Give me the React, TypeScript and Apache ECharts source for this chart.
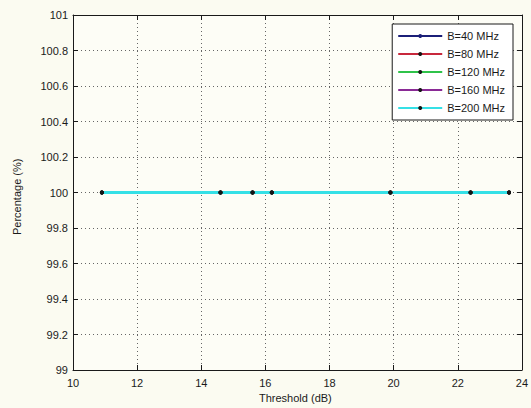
import React, { useEffect, useRef } from "react";
import * as echarts from "echarts";

const seriesNames = ["B=40 MHz", "B=80 MHz", "B=120 MHz", "B=160 MHz", "B=200 MHz"];
const seriesColors = ["#1b1f78", "#c8283c", "#2fc34a", "#8a2a96", "#35e0e6"];
const thresholds = [10.9, 14.6, 15.6, 16.2, 19.9, 22.4, 23.6];
const pct40 = [100, 100, 100, 100, 100, 100, 100];
const pct80 = [100, 100, 100, 100, 100, 100, 100];
const pct120 = [100, 100, 100, 100, 100, 100, 100];
const pct160 = [100, 100, 100, 100, 100, 100, 100];
const pct200 = [100, 100, 100, 100, 100, 100, 100];
const allValues = [pct40, pct80, pct120, pct160, pct200];

const FONT = "Liberation Sans";

export default function App() {
  const ref = useRef<HTMLDivElement>(null);
  useEffect(() => {
    if (!ref.current) return;
    const chart = echarts.init(ref.current, undefined, { renderer: "svg" });
    const gridLine = { show: true, lineStyle: { color: "#666", type: [1, 3] as any, width: 1 } };
    const axisLine = { show: true, lineStyle: { color: "#1a1a1a", width: 1 } };
    const tick = { show: true, inside: true, length: 5, lineStyle: { color: "#1a1a1a" } };
    const fmt = (v: number) => String(+v.toFixed(1));
    chart.setOption({
      animation: false,
      backgroundColor: "#fbfbf1",
      grid: { left: 73, right: 9, top: 15, bottom: 38, containLabel: false, show: true, backgroundColor: "#fdfdf6", borderWidth: 0 },
      xAxis: [
        {
          type: "value", min: 10, max: 24, interval: 2, position: "bottom",
          axisLine, axisTick: tick, splitLine: gridLine,
          axisLabel: { color: "#1a1a1a", fontFamily: FONT, fontSize: 11, margin: 7, formatter: fmt },
        },
        {
          type: "value", min: 10, max: 24, interval: 2, position: "top",
          axisLine, axisTick: tick, splitLine: { show: false }, axisLabel: { show: false },
        },
      ],
      yAxis: [
        {
          type: "value", min: 99, max: 101, interval: 0.2, position: "left",
          axisLine, axisTick: tick, splitLine: gridLine,
          axisLabel: { color: "#1a1a1a", fontFamily: FONT, fontSize: 11, margin: 5, formatter: fmt },
        },
        {
          type: "value", min: 99, max: 101, interval: 0.2, position: "right",
          axisLine, axisTick: tick, splitLine: { show: false }, axisLabel: { show: false },
        },
      ],
      legend: {
        orient: "vertical",
        right: 18,
        top: 24,
        backgroundColor: "#ffffff",
        borderColor: "#1a1a1a",
        borderWidth: 1,
        borderRadius: 0,
        padding: [6, 8, 6, 5],
        itemGap: 6,
        itemWidth: 44,
        itemHeight: 5,
        textStyle: { fontFamily: FONT, fontSize: 11, color: "#1a1a1a", lineHeight: 12 },
        data: seriesNames,
      },
      series: seriesNames.map((name, i) => ({
        name,
        type: "line",
        data: thresholds.map((x, j) => [x, allValues[i][j]]),
        symbol: i === 0 ? "none" : "circle",
        symbolSize: 4,
        color: seriesColors[i],
        lineStyle: { color: seriesColors[i], width: i === 4 ? 3 : 2 },
        itemStyle: { color: i === 0 ? seriesColors[0] : "#151515", borderWidth: 0 },
      })),
      graphic: [
        {
          type: "text", left: 297 - 38, top: 392,
          style: { text: "Threshold (dB)", font: `11px ${FONT}`, fill: "#1a1a1a" },
        },
        {
          type: "text", x: 11, y: 235, rotation: Math.PI / 2,
          style: { text: "Percentage (%)", font: `11px ${FONT}`, fill: "#1a1a1a" },
        },
      ],
    });
    return () => chart.dispose();
  }, []);
  return <div ref={ref} style={{ width: 531, height: 408, position: "fixed", left: 0, top: 0 }} />;
}
